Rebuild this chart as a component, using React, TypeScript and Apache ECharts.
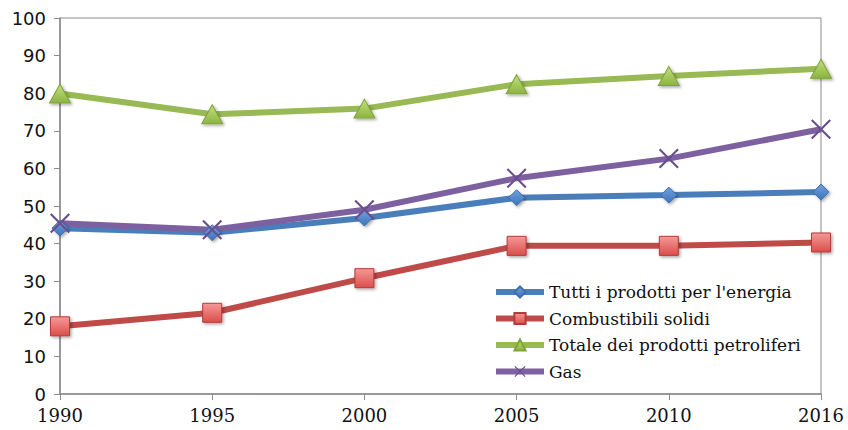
import React, { useEffect, useRef } from "react";
import * as echarts from "echarts";

const years = ["1990", "1995", "2000", "2005", "2010", "2016"];
const tuttiProdotti = [44.1, 42.9, 46.8, 52.2, 52.9, 53.7];
const combustibiliSolidi = [18.0, 21.6, 30.8, 39.4, 39.4, 40.3];
const totalePetroliferi = [79.9, 74.4, 75.9, 82.4, 84.6, 86.5];
const gas = [45.4, 43.7, 49.0, 57.4, 62.6, 70.4];
const seriesNames = [
  "Tutti i prodotti per l'energia",
  "Combustibili solidi",
  "Totale dei prodotti petroliferi",
  "Gas",
];

const X_PATH =
  "path://M0,1.5L1.5,0L10,8.5L18.5,0L20,1.5L11.5,10L20,18.5L18.5,20L10,11.5L1.5,20L0,18.5L8.5,10Z";

export default function App() {
  const ref = useRef<HTMLDivElement>(null);
  useEffect(() => {
    if (!ref.current) return;
    const chart = echarts.init(ref.current, undefined, { renderer: "svg" });
    const shadow = {
      shadowBlur: 3,
      shadowOffsetX: 1.5,
      shadowOffsetY: 1.5,
      shadowColor: "rgba(0,0,0,0.35)",
    };
    const grad = (c1: string, c2: string) =>
      new echarts.graphic.LinearGradient(0, 0, 0, 1, [
        { offset: 0, color: c1 },
        { offset: 1, color: c2 },
      ]);
    chart.setOption({
      animation: false,
      backgroundColor: "#ffffff",
      grid: {
        left: 60,
        right: 27,
        top: 18,
        bottom: 36,
        show: true,
        borderColor: "#8a8a8a",
        borderWidth: 1,
      },
      legend: {
        orient: "vertical",
        left: 488,
        top: 277,
        itemWidth: 48,
        itemHeight: 14,
        itemGap: 6.5,
        lineStyle: { width: 6 },
        textStyle: {
          fontFamily: "DejaVu Serif",
          fontSize: 17,
          color: "#111",
          lineHeight: 20,
        },
        data: seriesNames,
      },
      xAxis: {
        type: "category",
        data: years,
        boundaryGap: false,
        axisLine: { lineStyle: { color: "#8a8a8a", width: 1.5 } },
        axisTick: { show: true, length: 6, lineStyle: { color: "#8a8a8a" } },
        axisLabel: {
          fontFamily: "DejaVu Serif",
          fontSize: 18,
          color: "#111",
          margin: 12,
        },
        splitLine: { show: false },
      },
      yAxis: {
        type: "value",
        min: 0,
        max: 100,
        interval: 10,
        axisLine: { show: true, lineStyle: { color: "#8a8a8a", width: 1.5 } },
        axisTick: { show: true, length: 6, lineStyle: { color: "#8a8a8a" } },
        axisLabel: {
          fontFamily: "DejaVu Sans",
          fontSize: 18,
          color: "#111",
          margin: 14,
        },
        splitLine: { show: false },
      },
      series: [
        {
          name: seriesNames[0],
          type: "line",
          data: tuttiProdotti,
          symbol: "diamond",
          symbolSize: 16,
          lineStyle: { color: "#4a7ebb", width: 6 },
          itemStyle: {
            color: grad("#6fa0e0", "#3f74b8"),
            borderColor: "#3d6fae",
            borderWidth: 1,
            ...shadow,
          },
        },
        {
          name: seriesNames[1],
          type: "line",
          data: combustibiliSolidi,
          symbol: "rect",
          symbolSize: 19,
          lineStyle: { color: "#be4b48", width: 6 },
          itemStyle: {
            color: grad("#f49a98", "#dc4d4a"),
            borderColor: "#b23c39",
            borderWidth: 1,
            ...shadow,
          },
        },
        {
          name: seriesNames[2],
          type: "line",
          data: totalePetroliferi,
          symbol: "triangle",
          symbolSize: [21, 19],
          lineStyle: { color: "#98b954", width: 6 },
          itemStyle: {
            color: grad("#c3e07f", "#8cb441"),
            borderColor: "#7ea33c",
            borderWidth: 1,
            ...shadow,
          },
        },
        {
          name: seriesNames[3],
          type: "line",
          data: gas,
          symbol: X_PATH,
          symbolSize: 20,
          lineStyle: { color: "#7d60a0", width: 6 },
          itemStyle: {
            color: "#6a4e8e",
            borderColor: "#6a4e8e",
            borderWidth: 0,
          },
        },
      ],
    });
    return () => chart.dispose();
  }, []);
  return (
    <div
      ref={ref}
      style={{
        position: "fixed",
        left: 0,
        top: 0,
        width: 848,
        height: 430,
        background: "#fff",
      }}
    />
  );
}
